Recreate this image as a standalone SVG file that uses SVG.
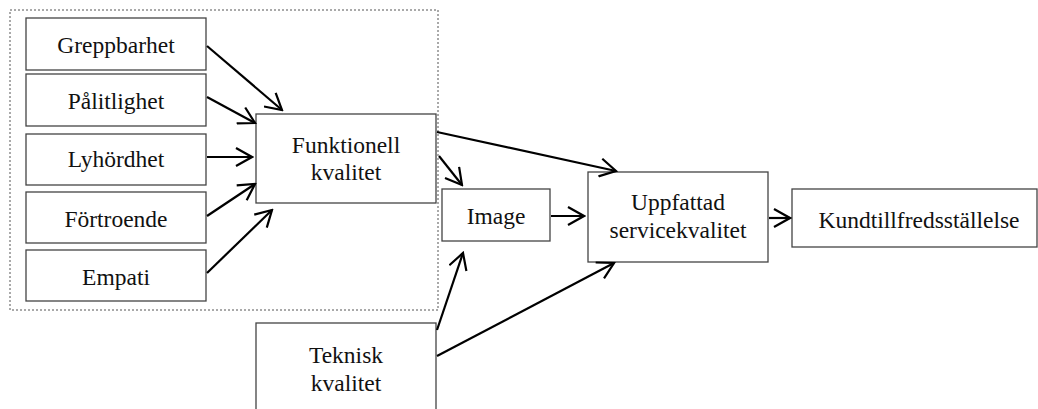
<svg xmlns="http://www.w3.org/2000/svg" width="1038" height="409" viewBox="0 0 1038 409">
<style>
.box{fill:#fff;stroke:#444;stroke-width:1.3}
.t{font-family:"Liberation Serif","Times New Roman",serif;font-size:23.5px;fill:#111;text-anchor:middle}
.c{stroke:#000;stroke-width:2.2;fill:none;marker-end:url(#ah)}
</style>
<defs>
<marker id="ah" viewBox="0 0 20 20" refX="18" refY="10" markerWidth="20" markerHeight="20" markerUnits="userSpaceOnUse" orient="auto">
<path d="M2,1 L18,10 L2,19" fill="none" stroke="#000" stroke-width="2.2"/>
</marker>
</defs>
<rect x="10" y="10" width="428" height="300" fill="none" stroke="#555" stroke-width="1" stroke-dasharray="2,2"/>
<g id="greppbarhet"><rect class="box" x="26" y="18" width="180" height="52"/><text class="t" x="116" y="53">Greppbarhet</text></g>
<g id="palitlighet"><rect class="box" x="26" y="74" width="180" height="52"/><text class="t" x="116" y="109">Pålitlighet</text></g>
<g id="lyhordhet"><rect class="box" x="26" y="134" width="180" height="51"/><text class="t" x="116" y="167">Lyhördhet</text></g>
<g id="fortroende"><rect class="box" x="26" y="192" width="180" height="51"/><text class="t" x="116" y="227">Förtroende</text></g>
<g id="empati"><rect class="box" x="26" y="250" width="180" height="51"/><text class="t" x="116" y="285">Empati</text></g>
<g id="funktionell"><rect class="box" x="256" y="114" width="180" height="89"/><text class="t" x="346" y="153">Funktionell</text><text class="t" x="346" y="180">kvalitet</text></g>
<g id="image"><rect class="box" x="442" y="189" width="108" height="52"/><text class="t" x="496" y="224">Image</text></g>
<g id="uppfattad"><rect class="box" x="588" y="172" width="180" height="90"/><text class="t" x="678" y="210">Uppfattad</text><text class="t" x="678" y="238">servicekvalitet</text></g>
<g id="kund"><rect class="box" x="792" y="189" width="245" height="58"/><text class="t" x="919" y="228">Kundtillfredsställelse</text></g>
<g id="teknisk"><rect class="box" x="256" y="323" width="180" height="100"/><text class="t" x="346" y="363">Teknisk</text><text class="t" x="346" y="391">kvalitet</text></g>
<g id="connectors">
<line class="c" x1="207" y1="46" x2="282" y2="110"/>
<line class="c" x1="207" y1="97" x2="255" y2="123"/>
<line class="c" x1="207" y1="157" x2="252" y2="157"/>
<line class="c" x1="207" y1="216" x2="255" y2="184"/>
<line class="c" x1="207" y1="273" x2="272" y2="210"/>
<line class="c" x1="437" y1="132" x2="616" y2="171"/>
<line class="c" x1="439" y1="156" x2="462" y2="185"/>
<line class="c" x1="551" y1="216" x2="584" y2="216"/>
<line class="c" x1="437" y1="330" x2="463" y2="253"/>
<line class="c" x1="437" y1="356" x2="614" y2="263"/>
<line class="c" x1="769" y1="218" x2="790" y2="218"/>
</g>
</svg>
